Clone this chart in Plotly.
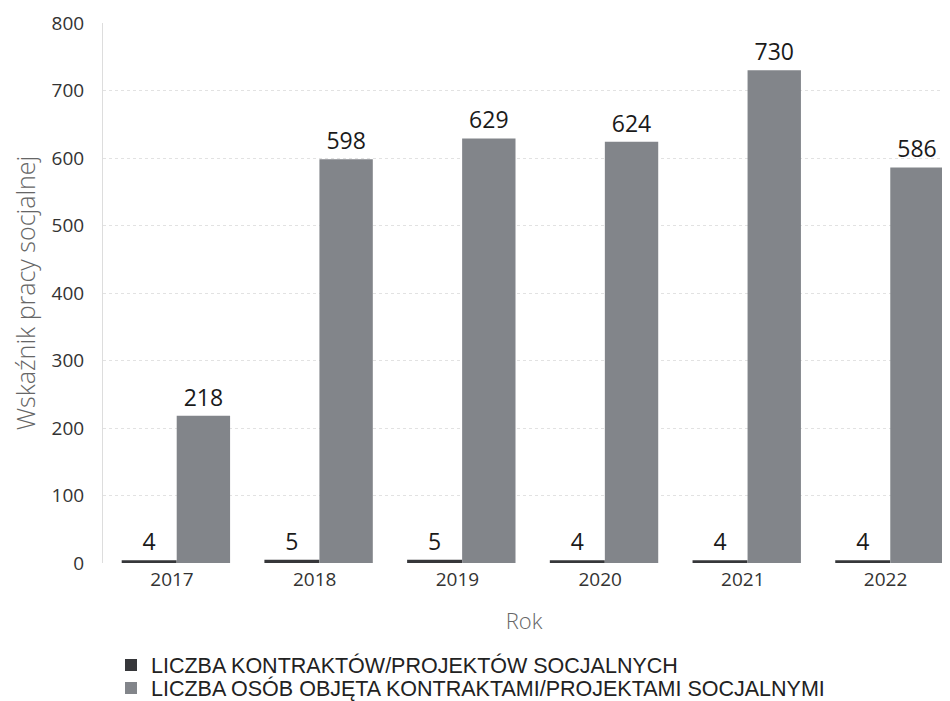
import plotly.graph_objects as go

years = ["2017", "2018", "2019", "2020", "2021", "2022"]
contracts = [4, 5, 5, 4, 4, 4]
persons = [218, 598, 629, 624, 730, 586]
series_names = [
    "LICZBA KONTRAKTÓW/PROJEKTÓW SOCJALNYCH",
    "LICZBA OSÓB OBJĘTA KONTRAKTAMI/PROJEKTAMI SOCJALNYMI",
]
y_ticks = [0, 100, 200, 300, 400, 500, 600, 700, 800]

font_family = "Open Sans, Noto Sans, DejaVu Sans, sans-serif"
legend_family = "Liberation Sans, Arial, sans-serif"

fig = go.Figure()
fig.add_trace(go.Bar(
    x=years, y=contracts, name=series_names[0], legend="legend",
    offset=-0.3525, width=0.385,
    marker=dict(color="#36373a", line=dict(width=0)),
    text=[str(v) for v in contracts], textposition="outside",
    textfont=dict(size=23, color="#1a1a1a", family=font_family),
    cliponaxis=False,
))
fig.add_trace(go.Bar(
    x=years, y=persons, name=series_names[1], legend="legend2",
    offset=0.033, width=0.374,
    marker=dict(color="#82858a", line=dict(width=0)),
    text=[str(v) for v in persons], textposition="outside",
    textfont=dict(size=23, color="#1a1a1a", family=font_family),
    cliponaxis=False,
))

legend_common = dict(
    orientation="v", xanchor="left", yanchor="middle", x=0.0095,
    font=dict(size=21.5, color="#222222", family=legend_family),
    bgcolor="rgba(0,0,0,0)", itemwidth=30, tracegroupgap=0,
)

# The page body has an 8px margin, so the figure is sized to fit the window.
fig.update_layout(
    width=942, height=693,
    margin=dict(l=95, r=5, t=15, b=138, autoexpand=False),
    paper_bgcolor="white", plot_bgcolor="white",
    barmode="overlay",
    font=dict(family=font_family, color="#333333"),
    showlegend=True,
    legend=dict(y=-0.1889, **legend_common),
    legend2=dict(y=-0.2315, **legend_common),
)
fig.update_xaxes(
    type="category", automargin=False, range=[-0.4835, 5.4165],
    title=dict(text="Rok", font=dict(size=22, color="#666666", weight=300), standoff=22),
    tickfont=dict(size=19, color="#333333"),
    ticklabelstandoff=3,
    showgrid=False, showline=False, zeroline=False, ticks="",
)
fig.update_yaxes(
    range=[0, 800], tickvals=y_ticks, automargin=False,
    title=dict(text="Wskaźnik pracy socjalnej", font=dict(size=25, color="#666666", weight=300), standoff=15),
    tickfont=dict(size=19, color="#333333"),
    ticklabelstandoff=14,
    showgrid=True, gridcolor="#e2e2e2", griddash="dot", gridwidth=1,
    showline=True, linecolor="#dddddd", linewidth=1,
    zeroline=False, ticks="",
)

fig.write_html("out.html")
